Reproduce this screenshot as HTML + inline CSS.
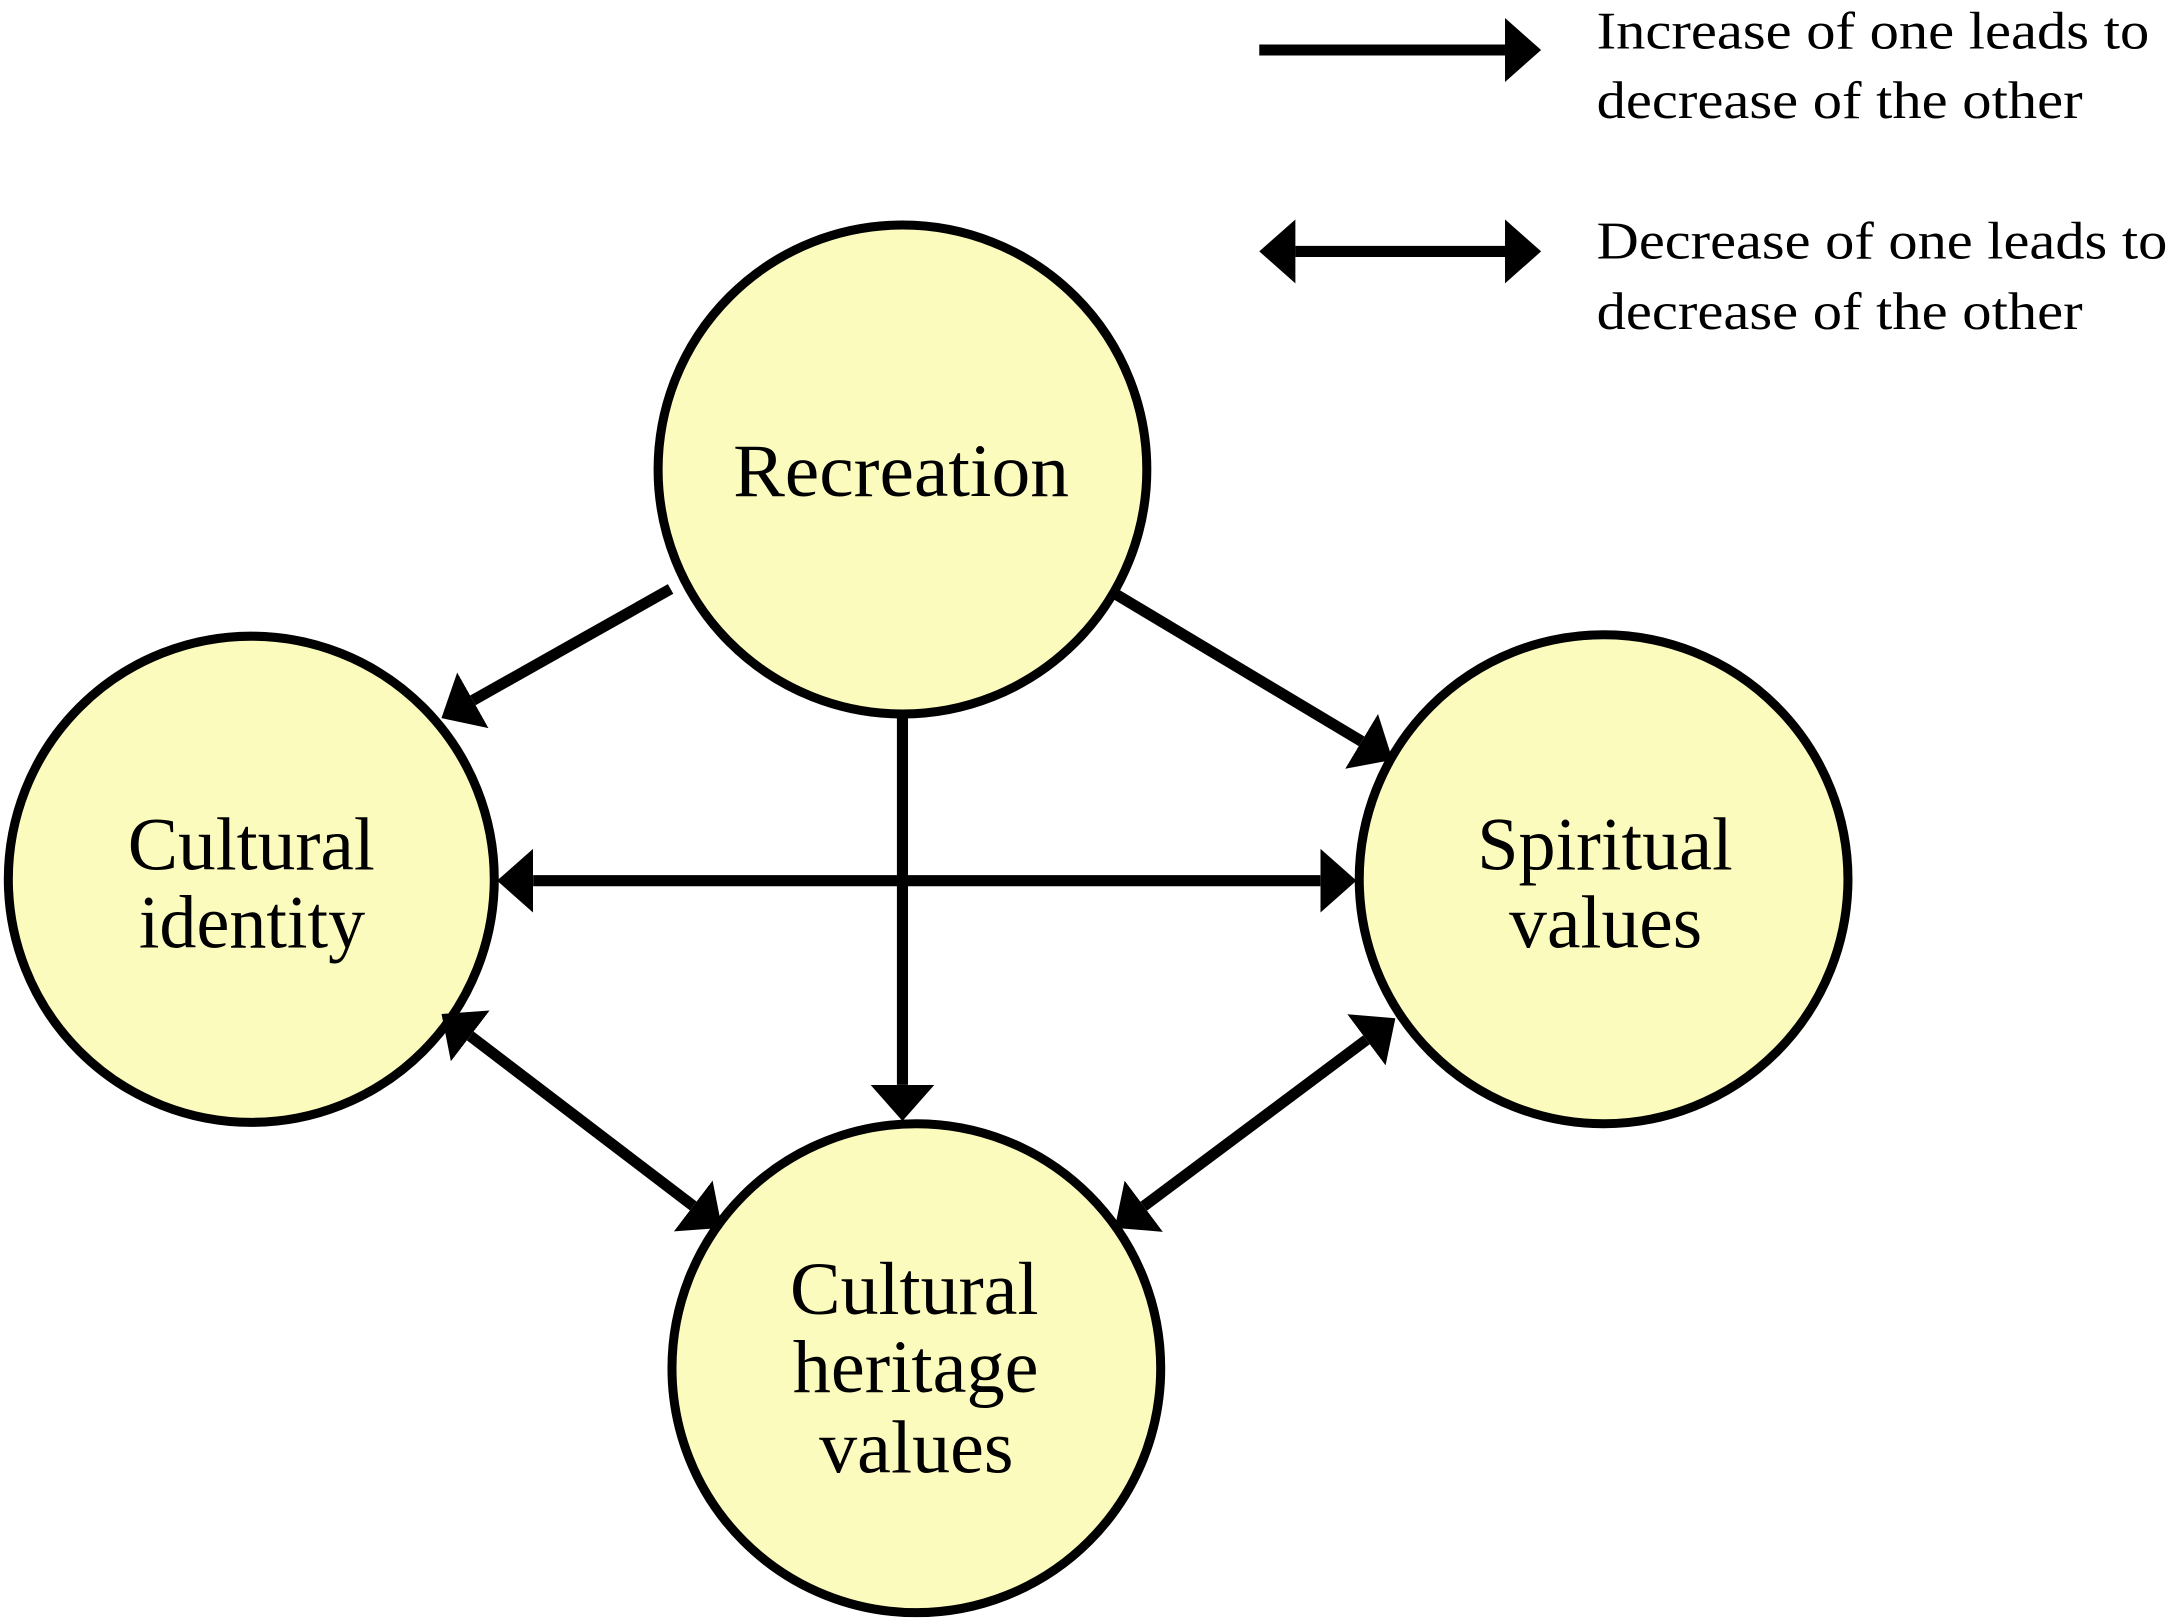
<!DOCTYPE html>
<html><head><meta charset="utf-8"><style>
html,body{margin:0;padding:0;background:#fff;}
svg{display:block;}
text{font-family:"Liberation Serif",serif;fill:#000;}
</style></head><body>
<svg width="2177" height="1621" viewBox="0 0 1568 1167" preserveAspectRatio="none" xmlns="http://www.w3.org/2000/svg">
<defs>
<marker id="ah" markerUnits="userSpaceOnUse" markerWidth="30" markerHeight="50" refX="0" refY="23" orient="auto-start-reverse" viewBox="0 0 30 50">
<path d="M0,0 L26,23 L0,46 Z" fill="#000"/>
</marker>
</defs>
<g fill="#fcfbbe" stroke="#000" stroke-width="6.5">
<circle cx="650" cy="338" r="176"/>
<circle cx="181" cy="633" r="175"/>
<circle cx="1155" cy="633" r="176"/>
<circle cx="660" cy="985" r="176"/>
</g>
<g stroke="#000" stroke-width="8" fill="none">
<line x1="483" y1="424" x2="340.6" y2="504.2" marker-end="url(#ah)"/>
<line x1="804" y1="428" x2="980.7" y2="533.7" marker-end="url(#ah)"/>
<line x1="650" y1="514" x2="650" y2="781" marker-end="url(#ah)"/>
<line x1="384" y1="634" x2="951" y2="634" marker-start="url(#ah)" marker-end="url(#ah)"/>
<line x1="338.7" y1="745.8" x2="499.3" y2="868.2" marker-start="url(#ah)" marker-end="url(#ah)"/>
<line x1="984.2" y1="748.6" x2="823.8" y2="868.4" marker-start="url(#ah)" marker-end="url(#ah)"/>
<line x1="907" y1="36" x2="1084" y2="36" marker-end="url(#ah)"/>
<line x1="933" y1="181" x2="1084" y2="181" marker-start="url(#ah)" marker-end="url(#ah)"/>
</g>
<g font-size="54" lengthAdjust="spacingAndGlyphs">
<text x="528" y="357" textLength="242" lengthAdjust="spacingAndGlyphs">Recreation</text>
<text x="92" y="626" textLength="178" lengthAdjust="spacingAndGlyphs">Cultural</text>
<text x="100" y="682" textLength="163" lengthAdjust="spacingAndGlyphs">identity</text>
<text x="1064" y="626" textLength="184" lengthAdjust="spacingAndGlyphs">Spiritual</text>
<text x="1087" y="682" textLength="139" lengthAdjust="spacingAndGlyphs">values</text>
<text x="569" y="946" textLength="179" lengthAdjust="spacingAndGlyphs">Cultural</text>
<text x="571" y="1002" textLength="177" lengthAdjust="spacingAndGlyphs">heritage</text>
<text x="590" y="1060" textLength="140" lengthAdjust="spacingAndGlyphs">values</text>
</g>
<g font-size="38">
<text x="1150" y="35" textLength="398" lengthAdjust="spacingAndGlyphs">Increase of one leads to</text>
<text x="1150" y="85" textLength="350" lengthAdjust="spacingAndGlyphs">decrease of the other</text>
<text x="1150" y="186" textLength="411" lengthAdjust="spacingAndGlyphs">Decrease of one leads to</text>
<text x="1150" y="237" textLength="350" lengthAdjust="spacingAndGlyphs">decrease of the other</text>
</g>
</svg>
</body></html>
